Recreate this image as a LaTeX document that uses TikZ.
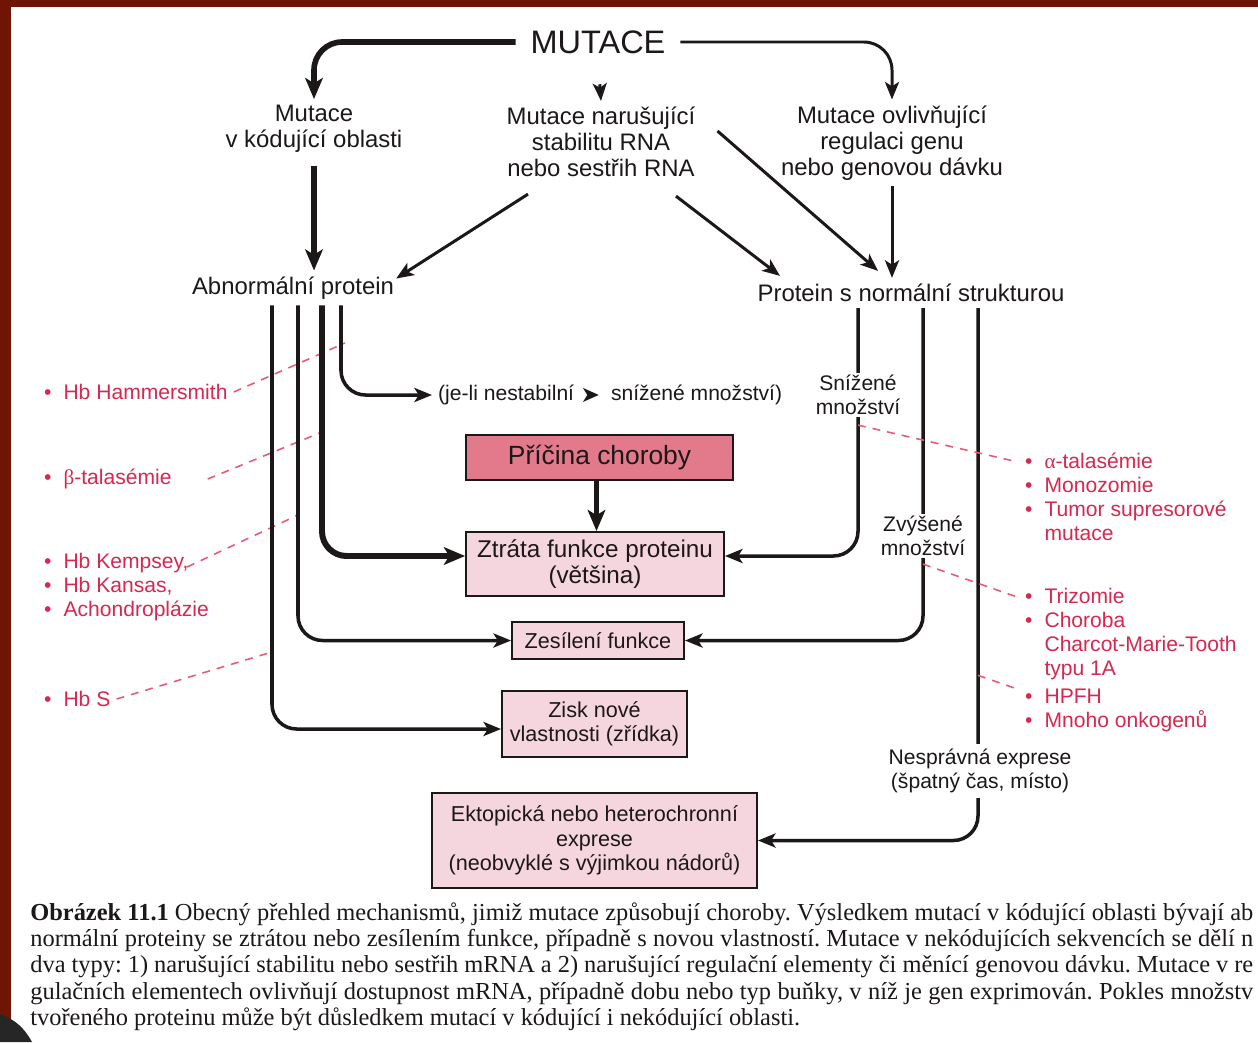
\documentclass[tikz,border=0pt]{standalone}
\usepackage{fontspec}
\setmainfont{Liberation Sans}
\newfontfamily\capfont{Liberation Serif}
\usetikzlibrary{arrows.meta}

\definecolor{ink}{RGB}{28,24,24}
\definecolor{hintred}{RGB}{214,40,80}
\definecolor{dashred}{RGB}{232,90,120}
\definecolor{boxpink}{RGB}{246,214,222}
\definecolor{causepink}{RGB}{226,122,140}
\definecolor{scanred}{RGB}{112,20,6}

\newcommand\hintdot{\makebox[11pt][l]{\textbullet}}
\newcommand\headmark{\tikz[baseline=-3.2pt]\fill[ink] (0pt,0pt) -- (-9pt,4pt) -- (-6.5pt,0pt) -- (-9pt,-4pt) -- cycle;}

\begin{document}
\begin{tikzpicture}[x=0.02cm, y=-0.02cm,
    lbl/.style={font=\fontsize{13.6}{14.8}\selectfont, text=ink, align=center},
    side/.style={lbl, font=\fontsize{12}{13.8}\selectfont, fill=white, inner sep=1pt},
    hint/.style={font=\fontsize{12}{13.6}\selectfont, text=hintred, align=left, anchor=west},
    box/.style={lbl, font=\fontsize{12.3}{13.9}\selectfont, draw=ink, line width=1.1pt, fill=boxpink, inner sep=0pt},
    arr/.style={draw=ink, line width=1.7pt, -{Stealth[length=10pt,width=8pt,inset=2.5pt]}},
    fatarr/.style={draw=ink, line width=3.2pt, -{Stealth[length=12pt,width=10pt,inset=3pt]}},
    branch/.style={arr, line width=2pt, rounded corners=14pt},
    tie/.style={draw=dashred, line width=0.9pt, dash pattern=on 4.5pt off 4pt},
    captext/.style={font=\capfont\fontsize{13.9}{15}\selectfont\frenchspacing, text=ink, anchor=base west, inner sep=0pt}]

    \useasboundingbox (0,0) rectangle (1258,1042);
    \fill[white] (0,0) rectangle (1258,1042);
    % scan edges
    \fill[scanred] (0,0) rectangle (11,1042);
    \fill[scanred] (0,0) rectangle (1258,7);
    \fill[black!85] (0,1042) -- (0,1014) to[bend left=20] (32,1042) -- cycle;

    % top level
    \node[lbl, font=\fontsize{18.5}{20}\selectfont] (mut) at (598,42) {MUTACE};
    \node[lbl] (kod) at (314,129) {Mutace\\v kódující oblasti};
    \node[lbl] (rna) at (601,142) {Mutace narušující\\stabilitu RNA\\nebo sestřih RNA};
    \node[lbl] (reg) at (892,143) {Mutace ovlivňující\\regulaci genu\\nebo genovou dávku};
    \node[lbl] (abn) at (293,288) {Abnormální protein};
    \node[lbl] (norm) at (911,293) {Protein s normální strukturou};
    \node[lbl, font=\fontsize{12}{13.8}\selectfont, anchor=west] (nestab) at (432,395)
        {(je-li nestabilní\hspace{5pt}\headmark\hspace{7pt}snížené množství)};

    % boxes
    \node[box, fill=causepink, font=\fontsize{15}{17}\selectfont,
          minimum width=5.34cm, minimum height=0.9cm] (cause) at (599.5,457.5) {Příčina choroby};
    \node[box, font=\fontsize{13.8}{14.8}\selectfont, minimum width=5.16cm, minimum height=1.28cm]
        (loss) at (595,564) {Ztráta funkce proteinu\\(většina)};
    \node[box, minimum width=3.44cm, minimum height=0.74cm] (gain) at (598,640.5) {Zesílení funkce};
    \node[box, minimum width=3.7cm, minimum height=1.32cm] (new) at (594.5,724)
        {Zisk nové\\vlastnosti (zřídka)};
    \node[box, minimum width=6.5cm, minimum height=1.9cm] (ecto) at (594.5,840.5)
        {Ektopická nebo heterochronní\\exprese\\(neobvyklé s výjimkou nádorů)};

    % examples in red
    \node[hint] (hh) at (38,392) {\hintdot Hb Hammersmith};
    \node[hint] (bt) at (38,479) {\hintdot{\capfont β}-talasémie};
    \node[hint] (hk) at (38,587) {\hintdot Hb Kempsey,\\\hintdot Hb Kansas,\\\hintdot Achondroplázie};
    \node[hint] (hs) at (38,699) {\hintdot Hb S};
    \node[hint] (al) at (1019,497)
        {\hintdot{\capfont α}-talasémie\\\hintdot Monozomie\\\hintdot Tumor supresorové\\\hspace*{11pt}mutace};
    \node[hint] (tri) at (1019,634)
        {\hintdot Trizomie\\\hintdot Choroba\\\hspace*{11pt}Charcot-Marie-Tooth\\\hspace*{11pt}typu 1A};
    \node[hint] (hp) at (1019,710) {\hintdot HPFH\\\hintdot Mnoho onkogenů};

    \coordinate (hhend) at (345,343);
    \coordinate (btend) at (322,432);
    \coordinate (hkend) at (298,515);
    \coordinate (hsend) at (272,652);
    \coordinate (alend) at (1018,462);
    \coordinate (triend) at (1020,598);
    \coordinate (hpend) at (1020,690);

    \draw[tie] (hh.east) -- (hhend);
    \draw[tie] ([shift={(30,0)}]bt.east) -- (btend);
    \draw[tie] ([shift={(-28,-20)}]hk.east) -- (hkend);
    \draw[tie] (hs.east) -- (hsend);

    % arrows from the top
    \draw[fatarr, rounded corners=16pt, shorten <=5pt] (mut.west) -| (kod.north);
    \draw[arr, rounded corners=16pt, shorten <=5pt] (mut.east) -| (reg.north);
    \draw[arr, shorten <=14pt] (mut.south) -- (rna.north);
    \draw[fatarr, shorten <=4pt] (kod.south) -- (kod.south |- abn.north);
    \draw[arr] ([shift={(-73,11)}]rna.south) -- ([shift={(-4,8)}]abn.north east);
    \draw[arr] ([shift={(75,13)}]rna.south) -- ([shift={(-131,-2)}]norm.north);
    \draw[arr] ([shift={(16,-11)}]rna.east) -- ([shift={(-33,-7)}]norm.north);
    \draw[arr] (reg.south) -- (reg.south |- norm.north);

    % abnormal protein
    \draw[branch] ([shift={(48,0)}]abn.south) |- (nestab.west);
    \draw[branch, line width=3.4pt, -{Stealth[length=12pt,width=10pt,inset=3pt]}]
        ([shift={(29,0)}]abn.south) |- ([shift={(0,-8)}]loss.west);
    \draw[branch] ([shift={(5,0)}]abn.south) |- (gain.west);
    \draw[branch] ([shift={(-21,0)}]abn.south) |- ([shift={(0,5)}]new.west);
    \draw[fatarr] ([shift={(-3,0)}]cause.south) -- ([shift={(-3,0)}]cause.south |- loss.north);

    % normal protein
    \draw[branch] ([shift={(-53,0)}]norm.south) |- ([shift={(0,-8)}]loss.east);
    \draw[branch] ([shift={(12,0)}]norm.south) |- (gain.east);
    \draw[branch] ([shift={(67,0)}]norm.south) |- (ecto.east);

    \node[side] (low) at (858,395) {Snížené\\množství};
    \node[side] (high) at (923,536) {Zvýšené\\množství};
    \node[side, inner sep=3pt] (wrong) at (980,771) {Nesprávná exprese\\(špatný čas, místo)};

    \draw[tie] ([shift={(0,8)}]low.south) -- (alend);
    \draw[tie] ([shift={(0,6)}]high.south) -- (triend);
    \draw[tie] ([shift={(-2,-68)}]wrong.north) -- (hpend);

    % caption
    \node[captext] (c1) at (30,920) {\hbox to 696pt{\textbf{Obrázek 11.1} Obecný přehled mechanismů, jimiž mutace způsobují choroby. Výsledkem mutací v kódující oblasti bývají ab}};
    \node[captext] (c2) at (30,946) {\hbox to 696pt{normální proteiny se ztrátou nebo zesílením funkce, případně s novou vlastností. Mutace v nekódujících sekvencích se dělí n}};
    \node[captext] (c3) at (30,972) {\hbox to 696pt{dva typy: 1) narušující stabilitu nebo sestřih mRNA a 2) narušující regulační elementy či měnící genovou dávku. Mutace v re}};
    \node[captext] (c4) at (30,999) {\hbox to 696pt{gulačních elementech ovlivňují dostupnost mRNA, případně dobu nebo typ buňky, v níž je gen exprimován. Pokles množstv}};
    \node[captext] (c5) at (30,1025) {tvořeného proteinu může být důsledkem mutací v kódující i nekódující oblasti.};
\end{tikzpicture}
\end{document}
